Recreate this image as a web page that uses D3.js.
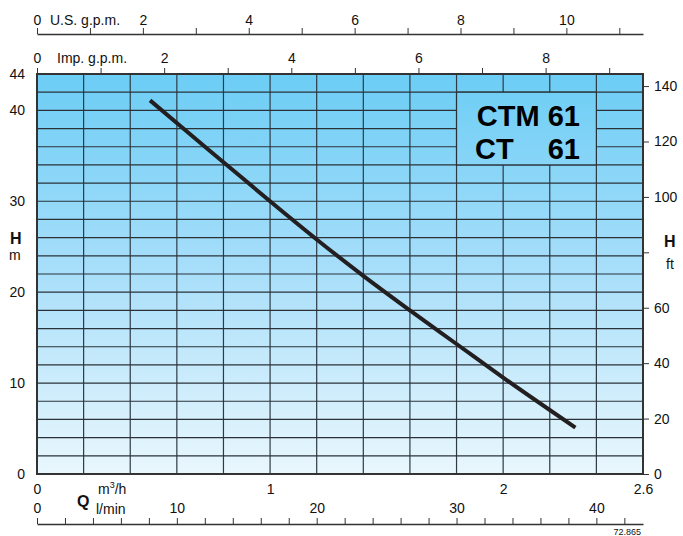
<!DOCTYPE html>
<html>
<head>
<meta charset="utf-8">
<script src="https://cdn.jsdelivr.net/npm/d3@7"></script>
<style>
  body { margin: 0; background: #fff; }
  svg { font-family: "Liberation Sans", Arial, sans-serif; }
</style>
</head>
<body>
<svg id="chart" width="683" height="536"></svg>
<script>
// pump curve: flow in m3/h, head in m
const flowM3h = [0.485, 0.6, 0.8, 1.0, 1.2, 1.4, 1.6, 1.8, 2.0, 2.31];
const headM   = [41.1, 38.6, 34.3, 30.0, 25.8, 21.8, 18.0, 14.3, 10.6, 5.1];

// tick labels
const headTicksM   = [0, 10, 20, 30, 40, 44];
const headTicksFt  = [0, 20, 40, 60, 80, 100, 120, 140];
const flowTicksM3h = [0, 1, 2, 2.6];
const usTicks  = d3.range(0, 12);
const impTicks = d3.range(0, 10);
const lminTicks = d3.range(0, 44, 2);

const svg = d3.select("#chart");
const pLeft = 37, pRight = 643, pTop = 74, pBottom = 474;

const x = d3.scaleLinear().domain([0, 2.6]).range([pLeft, pRight]);
const y = d3.scaleLinear().domain([0, 44]).range([pBottom, pTop]);
const yFt = d3.scaleLinear().domain([0, 44 * 3.28084]).range([pBottom, pTop]);
const xUS = d3.scaleLinear().domain([0, 2.6 / 0.227125]).range([pLeft, pRight]);
const xImp = d3.scaleLinear().domain([0, 2.6 / 0.272765]).range([pLeft, pRight]);
const xLmin = d3.scaleLinear().domain([0, 2.6 / 0.06]).range([pLeft, pRight]);

// background gradient
const grad = svg.append("defs").append("linearGradient")
    .attr("id", "bg").attr("gradientUnits", "userSpaceOnUse")
    .attr("x1", 0).attr("x2", 0).attr("y1", pTop).attr("y2", pBottom);
grad.append("stop").attr("offset", "0%").attr("stop-color", "#6ccdf5");
grad.append("stop").attr("offset", "50%").attr("stop-color", "#a9dffa");
grad.append("stop").attr("offset", "100%").attr("stop-color", "#e9f7fd");

svg.append("rect")
    .attr("x", pLeft).attr("y", pTop)
    .attr("width", pRight - pLeft).attr("height", pBottom - pTop)
    .attr("fill", "url(#bg)");

// grid: every 0.2 m3/h and every 2 m
svg.append("g").selectAll("line")
    .data(d3.range(1, 13).map(i => i * 0.2))
    .enter().append("line")
        .attr("x1", d => x(d)).attr("x2", d => x(d))
        .attr("y1", pTop).attr("y2", pBottom)
        .attr("stroke", "#2e3a44").attr("stroke-width", 1.2);

svg.append("g").selectAll("line")
    .data(d3.range(1, 22).map(i => i * 2))
    .enter().append("line")
        .attr("x1", pLeft).attr("x2", pRight)
        .attr("y1", d => y(d)).attr("y2", d => y(d))
        .attr("stroke", "#2a3238").attr("stroke-width", 1.2);

// model box covers the grid
svg.append("rect")
    .attr("x", x(1.8)).attr("y", y(42))
    .attr("width", x(2.4) - x(1.8)).attr("height", y(34) - y(42))
    .attr("fill", "url(#bg)")
    .attr("stroke", "#2a3238").attr("stroke-width", 1.2);

svg.append("text").attr("x", 580).attr("y", 126)
    .attr("text-anchor", "end").attr("font-weight", "bold").attr("font-size", 29)
    .text("CTM 61");
svg.append("text").attr("x", 475).attr("y", 159)
    .attr("font-weight", "bold").attr("font-size", 29).text("CT");
svg.append("text").attr("x", 580).attr("y", 159)
    .attr("text-anchor", "end").attr("font-weight", "bold").attr("font-size", 29)
    .text("61");

// curve
const line = d3.line()
    .x(d => x(d[0])).y(d => y(d[1]))
    .curve(d3.curveMonotoneX);
svg.append("path")
    .attr("d", line(flowM3h.map((q, i) => [q, headM[i]])))
    .attr("fill", "none")
    .attr("stroke", "#231f20").attr("stroke-width", 4);

// plot frame
svg.append("rect")
    .attr("x", pLeft).attr("y", pTop)
    .attr("width", pRight - pLeft).attr("height", pBottom - pTop)
    .attr("fill", "none").attr("stroke", "#333").attr("stroke-width", 2);

function styleAxis(g) {
    g.attr("font-family", null).attr("font-size", 14);
    g.selectAll(".tick line").attr("stroke", "#333");
    g.selectAll(".tick text").attr("fill", "#111");
}

// left axis m
svg.append("g").attr("transform", `translate(${pLeft},0)`)
    .call(d3.axisLeft(y).tickValues(headTicksM).tickSize(0).tickPadding(12))
    .call(g => g.select(".domain").remove())
    .call(styleAxis);

// right axis ft
svg.append("g").attr("transform", `translate(${pRight},0)`)
    .call(d3.axisRight(yFt).tickValues(headTicksFt).tickSize(6).tickPadding(5)
        .tickFormat(d => d === 80 ? "" : d))
    .call(g => g.select(".domain").remove())
    .call(styleAxis);

// bottom m3/h
svg.append("g").attr("transform", `translate(0,${pBottom})`)
    .call(d3.axisBottom(x).tickValues(flowTicksM3h).tickSize(0).tickPadding(10)
        .tickFormat(d => d))
    .call(g => g.select(".domain").remove())
    .call(styleAxis);

// l/min
svg.append("g").attr("transform", "translate(0,524)")
    .call(d3.axisTop(xLmin).tickValues(lminTicks).tickSize(6).tickSizeOuter(0).tickPadding(5)
        .tickFormat(d => d % 10 === 0 ? d : ""))
    .call(g => g.select(".domain").attr("stroke", "#333").attr("stroke-width", 1.5))
    .call(styleAxis);

// Imp. g.p.m.
svg.append("g").attr("transform", `translate(0,${pTop})`)
    .call(d3.axisTop(xImp).tickValues(impTicks).tickSize(6).tickSizeOuter(0).tickPadding(5)
        .tickFormat(d => d % 2 === 0 ? d : ""))
    .call(g => g.select(".domain").remove())
    .call(styleAxis);

// U.S. g.p.m.
svg.append("g").attr("transform", "translate(0,34)")
    .call(d3.axisTop(xUS).tickValues(usTicks).tickSize(6).tickSizeOuter(0).tickPadding(3)
        .tickFormat(d => d % 2 === 0 ? d : ""))
    .call(g => g.select(".domain").attr("stroke", "#333").attr("stroke-width", 1.5))
    .call(styleAxis);

// unit labels
const label = (tx, ty, t, size, bold) => svg.append("text")
    .attr("x", tx).attr("y", ty).attr("font-size", size)
    .attr("font-weight", bold ? "bold" : "normal").attr("fill", "#111").text(t);

label(50, 25, "U.S. g.p.m.", 14);
label(57, 63, "Imp. g.p.m.", 14);
label(10, 244, "H", 16, true);
label(9, 260, "m", 14);
label(664, 247, "H", 16, true);
label(666, 269, "ft", 14);
label(77, 507, "Q", 16, true);
label(96, 514, "l/min", 14);
const m3 = label(98, 494, "m", 14);
m3.append("tspan").attr("font-size", 9).attr("dy", -6).text("3");
m3.append("tspan").attr("dy", 6).text("/h");
svg.append("text").attr("x", 641).attr("y", 535).attr("text-anchor", "end")
    .attr("font-size", 9).attr("fill", "#111").text("72.865");
</script>
</body>
</html>
